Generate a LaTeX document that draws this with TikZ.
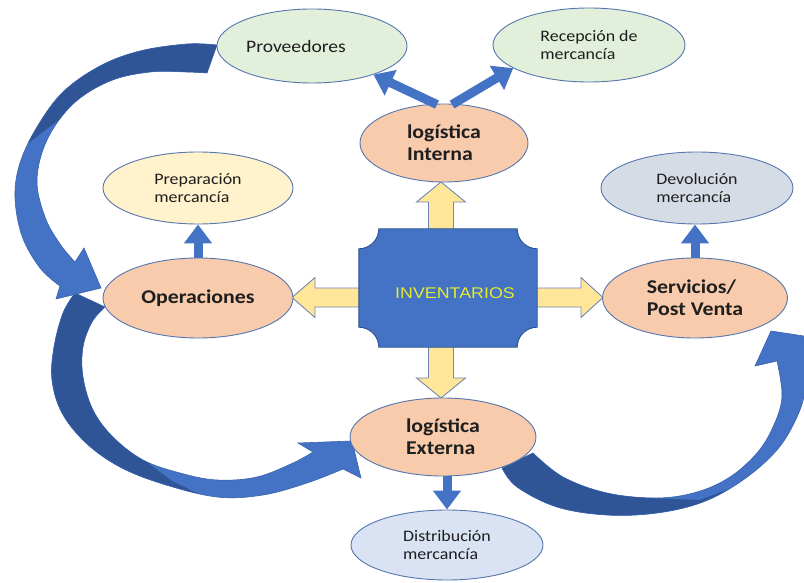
\documentclass[tikz,border=0pt]{standalone}
\usepackage{fontspec}
\setmainfont{Carlito}[FakeStretch=1.12]
\newfontfamily\plaquefont{Liberation Sans}[FakeStretch=1.15]
\usetikzlibrary{shapes.geometric,arrows.meta,calc}

\definecolor{bandDark}{HTML}{2F5597}
\definecolor{bandLight}{HTML}{4472C4}
\definecolor{bandEdge}{HTML}{3A63AE}
\definecolor{ringBlue}{HTML}{5676AE}
\definecolor{salmon}{HTML}{F8CBAD}
\definecolor{leaf}{HTML}{E2EFDA}
\definecolor{cream}{HTML}{FFF2CC}
\definecolor{slate}{HTML}{D6DCE5}
\definecolor{mist}{HTML}{DAE3F3}
\definecolor{fatFill}{HTML}{FFE699}
\definecolor{fatEdge}{HTML}{6F86B4}
\definecolor{plaqueEdge}{HTML}{2F528F}
\definecolor{plaqueText}{HTML}{E6EC2C}
\definecolor{inkGray}{HTML}{1E1E1E}

% outlines of the three wide curved arrows (pixel-like units, y downwards)
\def\bandOne{plot[smooth, tension=0.6] coordinates {(217,45) (187,44) (140,51) (100,66) (63,92) (37,127) (20,163) (15,197) (22,236) (40,268) (60,286)}
  -- (56,299) -- (101,288) -- (84,248)
  -- plot[smooth, tension=0.6] coordinates {(75,262) (60,244) (45,217) (37,180) (47,140) (73,104) (110,81) (150,72) (187,72) (207,73)} -- cycle}
\def\bandTwo{plot[smooth, tension=0.6] coordinates {(75,293) (63,313) (54,347) (52,380) (62,413) (86,443) (120,467) (163,484) (217,497) (263,495) (307,483) (343,469)}
  -- (361,478) -- (352,441) -- (298,443)
  -- plot[smooth, tension=0.6] coordinates {(313,452) (293,463) (257,477) (217,480) (180,473) (143,460) (113,437) (93,410) (83,377) (83,347) (92,322) (105,307)} -- cycle}
\def\bandThree{plot[smooth, tension=0.6] coordinates {(502,468) (517,487) (557,507) (607,515) (657,513) (703,502) (743,480) (777,450) (797,417) (806,387) (809,350)}
  -- (830,340) -- (771,331) -- (755,366)
  -- plot[smooth, tension=0.6] coordinates {(777,361) (782,397) (773,427) (757,453) (730,477) (697,492) (657,498) (607,493) (563,477) (533,453)} -- cycle}

\begin{document}
\begin{tikzpicture}[x=1pt,y=-1pt,
  bubble/.style={ellipse, draw=ringBlue, line width=0.9pt, inner sep=0pt, align=left,
    text=inkGray, font=\fontsize{16}{17.5}\selectfont},
  stage/.style={bubble, fill=salmon, font=\fontsize{19.5}{22}\selectfont\bfseries},
  fatbox/.style={draw=fatEdge, fill=fatFill, line width=0.9pt, line join=miter},
  thinlink/.style={draw=bandLight, line width=9pt, -{Triangle[width=27pt,length=19pt]}},
  plaque/.style={fill=bandLight, draw=plaqueEdge, line width=0.9pt},
  bandline/.style={draw=bandEdge, line width=0.6pt}
]
\useasboundingbox (0,0) rectangle (804,583);
\clip (0,0) rectangle (804,583);
\fill[white] (0,0) rectangle (804,583);

% wide curved arrows: light body, darker back part, thin outline
\foreach \band/\shade in {\bandThree/{(480,440) -- (560,440) -- (650,498) -- (700,500) -- (745,483) -- (780,540) -- (480,540) -- cycle},
                          \bandTwo/{(0,270) -- (130,270) -- (140,457) -- (172,481) -- (215,502) -- (215,530) -- (0,530) -- cycle},
                          \bandOne/{(250,0) -- (250,100) -- (65,115) -- (0,165) -- (0,0) -- cycle}}{
  \fill[bandLight] \band;
  \begin{scope}
    \clip \band;
    \fill[bandDark] \shade;
  \end{scope}
  \path[bandline] \band;
}

% yellow block arrows leaving the centre (tails tucked under the plaque)
\path[fatbox] (428.5,231) -- (428.5,202) -- (416.5,202) -- (441,182) -- (465.5,202) -- (453.5,202) -- (453.5,231) -- cycle;
\path[fatbox] (428.5,345) -- (428.5,378) -- (416.5,378) -- (441,398) -- (465.5,378) -- (453.5,378) -- (453.5,345) -- cycle;
\path[fatbox] (361,288) -- (315,288) -- (315,277.5) -- (292,297.5) -- (315,317.5) -- (315,307) -- (361,307) -- cycle;
\path[fatbox] (535,288) -- (581,288) -- (581,277.5) -- (603,297.5) -- (581,317.5) -- (581,307) -- (535,307) -- cycle;

% central plaque
\node[minimum width=178, minimum height=118, inner sep=0pt] (inv) at (448,288) {};
\draw[plaque] ($(inv.north west)+(20,0)$) -- ($(inv.north east)+(-20,0)$)
  arc[start angle=180, end angle=90, radius=20]
  -- ($(inv.south east)+(0,-20)$)
  arc[start angle=270, end angle=180, radius=20]
  -- ($(inv.south west)+(20,0)$)
  arc[start angle=0, end angle=-90, radius=20]
  -- ($(inv.north west)+(0,20)$)
  arc[start angle=90, end angle=0, radius=20]
  -- cycle;
\node[font=\plaquefont\fontsize{15.5}{18}\selectfont, text=plaqueText] (invtext)
  at ($(inv.center)+(7,5)$) {INVENTARIOS};

% ellipses
\node[bubble, fill=leaf, minimum width=190, minimum height=74] (prov) at (312,46) {};
\node[text=inkGray, font=\fontsize{17.5}{19}\selectfont] (provtext) at ($(prov.center)+(-16,0)$) {Proveedores};
\node[bubble, fill=leaf, minimum width=192, minimum height=74] (recep) at (589,45) {Recepción de\\mercancía};
\node[stage, minimum width=168, minimum height=78] (lint) at (444,143) {logística\\Interna};
\node[bubble, fill=cream, minimum width=190, minimum height=72] (prep) at (198,188) {Preparación\\mercancía};
\node[bubble, fill=slate, minimum width=192, minimum height=72] (devo) at (697,188) {Devolución\\mercancía};
\node[stage, minimum width=190, minimum height=80] (ops) at (198,298) {Operaciones};
\node[stage, minimum width=185, minimum height=80] (serv) at (695,298) {Servicios/\\Post Venta};
\node[stage, minimum width=186, minimum height=78] (lext) at (443,437) {logística\\Externa};
\node[bubble, fill=mist, minimum width=192, minimum height=70] (dist) at (447,545) {Distribución\\mercancía};

% small blue connectors
\draw[thinlink] ($(lint.north)+(-7,1)$) -- (prov.-25);
\draw[thinlink] ($(lint.north)+(8,1)$) -- (recep.197);
\draw[thinlink] (ops.north) -- (prep.south);
\draw[thinlink] (serv.north) -- (serv.north |- devo.south);
\draw[thinlink] (lext.south -| dist.north) -- (dist.north);
\end{tikzpicture}
\end{document}
